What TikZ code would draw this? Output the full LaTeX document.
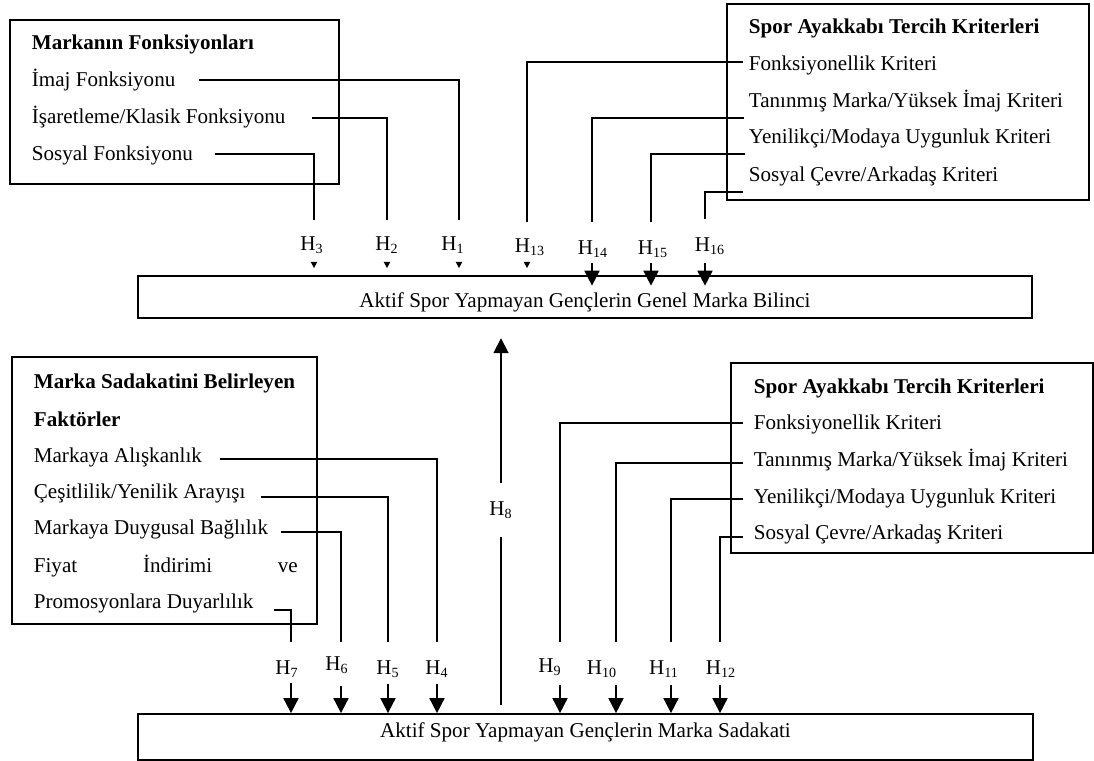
\documentclass[tikz,border=0pt]{standalone}
\usepackage{fontspec}
\setmainfont{Liberation Serif}
\usepackage{tikz}
\usetikzlibrary{arrows.meta, positioning, calc, fit}

\begin{document}
\begin{tikzpicture}[x=0.02cm, y=-0.02cm, line width=1pt,
  every node/.style={font=\fontsize{12}{14}\selectfont},
  item/.style={anchor=base west, inner sep=0pt},
  head/.style={item, font=\fontsize{12}{14}\selectfont\bfseries},
  frame/.style={draw, inner sep=0pt},
  hyp/.style={anchor=base, inner sep=0pt},
  bigarr/.style={-{Triangle[width=8.5pt,length=8.5pt]}},
  tinyarr/.style={-{Triangle[width=3.5pt,length=3.5pt]}, shorten >=4pt}]
\useasboundingbox (0,0) rectangle (1094,760);

% outcome boxes
\node[frame, minimum width=17.88cm, minimum height=0.84cm, text height=12pt, text depth=0pt] (bilinc) at (585,297) {Aktif Spor Yapmayan Gençlerin Genel Marka Bilinci};
\node[frame, minimum width=17.9cm, minimum height=0.92cm, text height=5pt, text depth=5pt] (sadakat) at (585.5,737) {Aktif Spor Yapmayan Gençlerin Marka Sadakati};

% markanin fonksiyonlari
\node[frame, fit={(10,20) (339,184)}] (fnbox) {};
\node[head] (fntitle) at (31,50) {Markanın Fonksiyonları};
\node[item] (imaj) at (31,87) {İmaj Fonksiyonu};
\node[item] (isaret) at (31,124) {İşaretleme/Klasik Fonksiyonu};
\node[item] (sosyal) at (31,161) {Sosyal Fonksiyonu};

% tercih kriterleri (top)
\node[frame, fit={(727,4) (1089,200)}] (ktbox1) {};
\node[head] (kttitle1) at (748,34) {Spor Ayakkabı Tercih Kriterleri};
\node[item] (fonks1) at (748,71) {Fonksiyonellik Kriteri};
\node[item] (tanin1) at (748,108) {Tanınmış Marka/Yüksek İmaj Kriteri};
\node[item] (yenil1) at (748,144) {Yenilikçi/Modaya Uygunluk Kriteri};
\node[item] (cevre1) at (748,181) {Sosyal Çevre/Arkadaş Kriteri};

% sadakat faktorleri
\node[frame, fit={(12,357) (317,624)}] (sdbox) {};
\node[head] (sdtitle) at (33,388) {Marka Sadakatini Belirleyen};
\node[head] (sdtitle2) at (33,426) {Faktörler};
\node[item] (alis) at (33,462) {Markaya Alışkanlık};
\node[item] (cesit) at (33,498) {Çeşitlilik/Yenilik Arayışı};
\node[item] (duygu) at (33,534) {Markaya Duygusal Bağlılık};
\node[item] (fiyat) at (33,572) {\hbox to 5.28cm{Fiyat\hfill İndirimi\hfill ve}};
\node[item] (promo) at (33,608) {Promosyonlara Duyarlılık};

% tercih kriterleri (bottom)
\node[frame, fit={(731,363) (1093,553)}] (ktbox2) {};
\node[head] (kttitle2) at (753,393) {Spor Ayakkabı Tercih Kriterleri};
\node[item] (fonks2) at (753,429) {Fonksiyonellik Kriteri};
\node[item] (tanin2) at (753,466) {Tanınmış Marka/Yüksek İmaj Kriteri};
\node[item] (yenil2) at (753,503) {Yenilikçi/Modaya Uygunluk Kriteri};
\node[item] (cevre2) at (753,539) {Sosyal Çevre/Arkadaş Kriteri};

% line ends and arrow starts
\coordinate (e1) at (459,220);  \coordinate (s1) at (459,263);
\coordinate (e2) at (387,220);  \coordinate (s2) at (387,263);
\coordinate (e3) at (314,220);  \coordinate (s3) at (314,263);
\coordinate (e13) at (527,222); \coordinate (s13) at (527,263);
\coordinate (e14) at (592,222); \coordinate (s14) at (592,263);
\coordinate (e15) at (651,222); \coordinate (s15) at (651,263);
\coordinate (e16) at (705,219); \coordinate (s16) at (705,263);
\coordinate (e4) at (437,642);  \coordinate (s4) at (437,684);
\coordinate (e5) at (388,642);  \coordinate (s5) at (388,684);
\coordinate (e6) at (341,642);  \coordinate (s6) at (341,686);
\coordinate (e7) at (291,642);  \coordinate (s7) at (291,683);
\coordinate (e9) at (560,642);  \coordinate (s9) at (560,685);
\coordinate (e10) at (616,642); \coordinate (s10) at (616,685);
\coordinate (e11) at (671,642); \coordinate (s11) at (671,685);
\coordinate (e12) at (720,642); \coordinate (s12) at (720,685);

% hypothesis labels
\node[hyp] (h1) at (453,250) {H\textsubscript{1}};
\node[hyp] (h2) at (387,250) {H\textsubscript{2}};
\node[hyp] (h3) at (312,250) {H\textsubscript{3}};
\node[hyp] (h13) at (530,252) {H\textsubscript{13}};
\node[hyp] (h14) at (593,254) {H\textsubscript{14}};
\node[hyp] (h15) at (653,254) {H\textsubscript{15}};
\node[hyp] (h16) at (710,251) {H\textsubscript{16}};
\node[hyp] (h4) at (437,674) {H\textsubscript{4}};
\node[hyp] (h5) at (388,674) {H\textsubscript{5}};
\node[hyp] (h6) at (337,670) {H\textsubscript{6}};
\node[hyp] (h7) at (287,674) {H\textsubscript{7}};
\node[hyp] (h9) at (550,672) {H\textsubscript{9}};
\node[hyp] (h10) at (602,674) {H\textsubscript{10}};
\node[hyp] (h11) at (664,674) {H\textsubscript{11}};
\node[hyp] (h12) at (721,674) {H\textsubscript{12}};
\node[inner sep=0pt, minimum height=30pt] (h8) at (501,510) {H\textsubscript{8}};

% connectors
\draw ([xshift=13pt, yshift=4pt]imaj.base east) -| (e1);
\draw ([xshift=14.5pt, yshift=3.4pt]isaret.base east) -| (e2);
\draw ([xshift=12pt, yshift=4pt]sosyal.base east) -| (e3);
\draw ([xshift=-3pt, yshift=5pt]fonks1.base west) -| (e13);
\draw ([xshift=-2.5pt, yshift=-5.7pt]tanin1.base west) -| (e14);
\draw ([xshift=-1.5pt, yshift=-5.7pt]yenil1.base west) -| (e15);
\draw ([xshift=-3pt, yshift=-6.2pt]cevre1.base west) -| (e16);
\draw ([xshift=10pt, yshift=1.7pt]alis.base east) -| (e4);
\draw ([xshift=8.5pt, yshift=0.6pt]cesit.base east) -| (e5);
\draw ([xshift=7pt, yshift=1.1pt]duygu.base east) -| (e6);
\draw ([xshift=11.3pt, yshift=-1.1pt]promo.base east) -| (e7);
\draw ([xshift=-5.7pt, yshift=3.4pt]fonks2.base west) -| (e9);
\draw ([xshift=-5.7pt, yshift=1.7pt]tanin2.base west) -| (e10);
\draw ([xshift=-5.7pt, yshift=2.3pt]yenil2.base west) -| (e11);
\draw ([xshift=-5.7pt, yshift=1.1pt]cevre2.base west) -| (e12);

\draw[tinyarr] (s1) -- (s1 |- bilinc.north);
\draw[tinyarr] (s2) -- (s2 |- bilinc.north);
\draw[tinyarr] (s3) -- (s3 |- bilinc.north);
\draw[tinyarr] (s13) -- (s13 |- bilinc.north);
\draw[bigarr, shorten >=-6pt] (s14) -- (s14 |- bilinc.north);
\draw[bigarr, shorten >=-6pt] (s15) -- (s15 |- bilinc.north);
\draw[bigarr, shorten >=-6pt] (s16) -- (s16 |- bilinc.north);

\draw[bigarr] (s4) -- (s4 |- sadakat.north);
\draw[bigarr] (s5) -- (s5 |- sadakat.north);
\draw[bigarr] (s6) -- (s6 |- sadakat.north);
\draw[bigarr] (s7) -- (s7 |- sadakat.north);
\draw[bigarr] (s9) -- (s9 |- sadakat.north);
\draw[bigarr] (s10) -- (s10 |- sadakat.north);
\draw[bigarr] (s11) -- (s11 |- sadakat.north);
\draw[bigarr] (s12) -- (s12 |- sadakat.north);

\draw[shorten <=4.5pt] (sadakat.north -| h8) -- (h8);
\draw[bigarr, shorten >=11pt] (h8) -- (bilinc.south -| h8);
\end{tikzpicture}
\end{document}
